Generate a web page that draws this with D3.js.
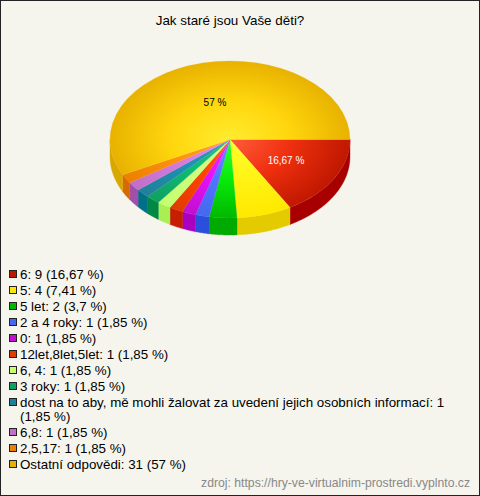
<!DOCTYPE html>
<html><head><meta charset="utf-8">
<script src="https://cdn.jsdelivr.net/npm/d3@7"></script>
<style>html,body{margin:0;padding:0;background:#f5f5ee}svg{display:block}text{font-family:"Liberation Sans",Arial,sans-serif}</style>
</head><body><div id="c"></div>
<script>
const titleText = "Jak staré jsou Vaše děti?";
const sourceText = "zdroj: https://hry-ve-virtualnim-prostredi.vyplnto.cz";
const categories = ["6","5","5 let","2 a 4 roky","0","12let,8let,5let","6, 4","3 roky","dost na to aby, mě mohli žalovat za uvedení jejich osobních informací","6,8","2,5,17","Ostatní odpovědi"];
const values = [9,4,2,1,1,1,1,1,1,1,1,31];
const percents = ["16,67","7,41","3,7","1,85","1,85","1,85","1,85","1,85","1,85","1,85","1,85","57"];
const sliceLabels = ["16,67 %","","","","","","","","","","","57 %"];
const centerColors = ["#ff5c3c","#ffff2c","#30ff30","#6a8cff","#f030ff","#ff5a20","#d8ff88","#20c080","#3098b8","#e090e8","#ffa030","#ffec30"];
const edgeColors   = ["#c01800","#ffe800","#00b800","#4468f0","#c010d0","#e03c00","#c4ff70","#10a060","#208098","#c070c8","#ec8000","#e8b200"];
const sideColors   = ["#a80000","#e3cb00","#00aa00","#2a4fdd","#aa00c0","#c81e00","#a8ee55","#008844","#006f88","#a050aa","#d86800","#d9a800"];
const legendColors = ["#c01800","#ffe800","#00b800","#4468f0","#c010d0","#e03c00","#c4ff70","#10a060","#208098","#c070c8","#ec8000","#e6b000"];

const W = 480, H = 496;
const svg = d3.select("#c").append("svg").attr("width", W).attr("height", H);
svg.append("rect").attr("x",.5).attr("y",.5).attr("width",W-1).attr("height",H-1).attr("fill","#f5f5ee").attr("stroke","#222");
svg.append("text").attr("x",230).attr("y",25).attr("text-anchor","middle").attr("font-size",13.4).attr("fill","#000").text(titleText);

const cx = 230, cy = 139.5, rx = 120, ry = 78.5, depth = 17;
const pie = d3.pie().sort(null).startAngle(Math.PI/2).endAngle(Math.PI*2.5);
const arcs = pie(values);
const arc = d3.arc().innerRadius(0).outerRadius(rx);
const defs = svg.append("defs");
const g = svg.append("g");

// side walls
const clamp = a => Math.max(Math.PI/2, Math.min(Math.PI*1.5, a));
const wall = d3.line();
arcs.forEach((d,i)=>{
  const a0 = clamp(d.startAngle), a1 = clamp(d.endAngle);
  if (a1 <= a0) return;
  const angles = d3.range(a0, a1, 0.01).concat([a1]);
  const upper = angles.map(a=>[cx+rx*Math.sin(a), cy-ry*Math.cos(a)]);
  const lower = upper.map(p=>[p[0],p[1]+depth]).reverse();
  g.append("path").attr("d", wall(upper.concat(lower))+"Z").attr("fill", sideColors[i]).attr("stroke",sideColors[i]).attr("stroke-width",.4);
});

// top faces
const face = g.append("g").attr("transform",`translate(${cx},${cy}) scale(1,${ry/rx})`);
arcs.forEach((d,i)=>{
  const grad = defs.append("radialGradient").attr("id","g"+i).attr("gradientUnits","userSpaceOnUse")
    .attr("cx",0).attr("cy",0).attr("r",rx);
  const mid = d3.hsl(d3.interpolateRgb(centerColors[i], edgeColors[i])(.5));
  mid.s = Math.min(1, mid.s*1.15);
  grad.append("stop").attr("offset",0).attr("stop-color",centerColors[i]);
  grad.append("stop").attr("offset",.5).attr("stop-color",mid.formatHex());
  grad.append("stop").attr("offset",1).attr("stop-color",edgeColors[i]);
  face.append("path").attr("d",arc(d)).attr("fill",`url(#g${i})`).attr("stroke",`url(#g${i})`).attr("stroke-width",.3);
});

// slice labels
g.append("text").attr("x",286).attr("y",164).attr("text-anchor","middle").attr("font-size",10).attr("fill","#fff").text(sliceLabels[0]);
g.append("text").attr("x",215).attr("y",106).attr("text-anchor","middle").attr("font-size",10).attr("fill","#000").text(sliceLabels[11]);

// legend
const maxW = 430;
const fs = 13.33;
const measure = svg.append("text").attr("font-size",fs).attr("visibility","hidden");
let y = 279;
categories.forEach((c,i)=>{
  const full = `${c}: ${values[i]} (${percents[i]} %)`;
  const words = full.split(" ");
  const lines = [];
  let cur = "";
  words.forEach(w=>{
    const t = cur ? cur+" "+w : w;
    measure.text(t);
    if (measure.node().getComputedTextLength() > maxW && cur) { lines.push(cur); cur = w; } else cur = t;
  });
  lines.push(cur);
  svg.append("rect").attr("x",9.5).attr("y",y-8.5).attr("width",7).attr("height",7).attr("fill",legendColors[i]).attr("stroke","#222");
  lines.forEach((l,k)=>{
    if (k>0) y += 14;
    svg.append("text").attr("x",20).attr("y",y).attr("font-size",fs).attr("fill","#000").text(l);
  });
  y += 16;
});
measure.remove();
svg.append("text").attr("x",470).attr("y",487).attr("text-anchor","end").attr("font-size",12.2).attr("fill","#888").text(sourceText);
</script></body></html>
